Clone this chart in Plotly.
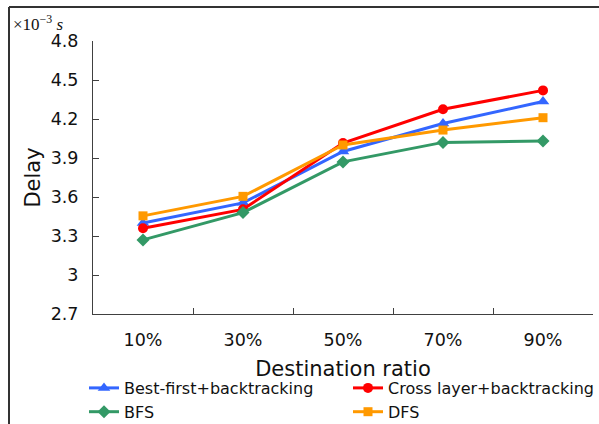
import plotly.graph_objects as go

categories = ["10%", "30%", "50%", "70%", "90%"]
best_first = [3.40, 3.555, 3.95, 4.165, 4.335]
cross_layer = [3.36, 3.505, 4.015, 4.275, 4.42]
bfs = [3.27, 3.48, 3.87, 4.02, 4.03]
dfs = [3.455, 3.605, 4.00, 4.115, 4.21]
y_ticks = [2.7, 3.0, 3.3, 3.6, 3.9, 4.2, 4.5, 4.8]
y_ticktext = ["2.7", "3", "3.3", "3.6", "3.9", "4.2", "4.5", "4.8"]

series = [
    ("Best-first+backtracking", best_first, "#3366FF", "triangle-up", 11, "legend"),
    ("Cross layer+backtracking", cross_layer, "#FF0000", "circle", 10, "legend2"),
    ("BFS", bfs, "#339966", "diamond", 10, "legend"),
    ("DFS", dfs, "#FF9900", "square", 9, "legend2"),
]

fig = go.Figure()
for name, vals, color, sym, size, leg in series:
    fig.add_trace(go.Scatter(
        x=categories, y=vals, name=name, mode="lines+markers",
        line=dict(color=color, width=3),
        marker=dict(symbol=sym, size=size, color=color),
        legend=leg,
    ))

L, R, T, B = 93, 6, 41, 110
W, H = 599, 424
pw, ph = W - L - R, H - T - B

def px(x):
    return (x - L) / pw

def py(y):
    return (H - B - y) / ph

leg_common = dict(
    orientation="v", yanchor="top", xanchor="left",
    font=dict(size=16, family="DejaVu Sans", color="#111"),
    bgcolor="rgba(0,0,0,0)", tracegroupgap=0, itemwidth=30,
)

fig.update_layout(
    width=W, height=H,
    margin=dict(l=L, r=R, t=T, b=B, autoexpand=False),
    plot_bgcolor="white", paper_bgcolor="white",
    font=dict(family="DejaVu Sans", size=17.5, color="#111"),
    showlegend=True,
    legend=dict(x=px(84), y=py(371), **leg_common),
    legend2=dict(x=px(348), y=py(371), **leg_common),
    xaxis=dict(
        title=dict(text="Destination ratio", font=dict(size=21), standoff=12),
        range=[-0.5, 4.5],
        showline=True, linecolor="#404040", linewidth=1,
        ticks="inside", ticklen=6, tickcolor="#404040", tickson="boundaries",
        showgrid=False, zeroline=False, automargin=False,
        tickfont=dict(size=17.5), ticklabelstandoff=10,
    ),
    yaxis=dict(
        title=dict(text="Delay", font=dict(size=21), standoff=4),
        range=[2.7, 4.8], tickvals=y_ticks, ticktext=y_ticktext,
        showline=True, linecolor="#404040", linewidth=1,
        ticks="inside", ticklen=6, tickcolor="#404040",
        showgrid=False, zeroline=False, automargin=False,
        tickfont=dict(size=17.5), ticklabelstandoff=10,
    ),
    annotations=[dict(
        text="×10<sup>−3</sup> <i>s</i>", xref="paper", yref="paper",
        x=px(11), y=py(23), xanchor="left", yanchor="middle", showarrow=False,
        font=dict(family="Liberation Serif", size=17, color="#111"),
    )],
    shapes=[
        dict(type="line", xref="paper", yref="paper", x0=px(9), x1=px(600),
             y0=py(7), y1=py(7), line=dict(color="#333", width=2)),
        dict(type="line", xref="paper", yref="paper", x0=px(9), x1=px(9),
             y0=py(7), y1=py(425), line=dict(color="#333", width=2)),
    ],
)

fig.write_html(
    "out.html",
    config={"displayModeBar": False},
    post_script="document.body.style.margin='0';document.body.style.overflow='hidden';",
)
